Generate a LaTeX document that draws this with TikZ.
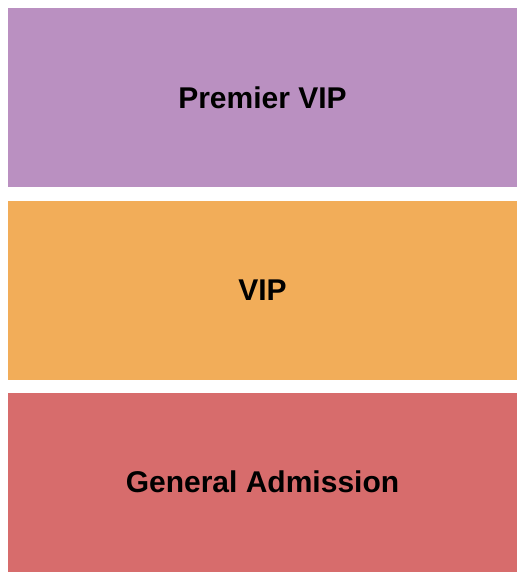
\documentclass[tikz,border=0pt]{standalone}
\usepackage{fontspec}
\setmainfont{Liberation Sans}
\definecolor{premier}{RGB}{186,144,193}
\definecolor{vipc}{RGB}{242,173,89}
\definecolor{gac}{RGB}{215,108,108}
\begin{document}
\begin{tikzpicture}[x=1bp,y=-1bp,
  section/.style={inner sep=0pt, outer sep=0pt, minimum width=509bp, minimum height=179bp, draw=none},
  label/.style={font=\fontsize{30bp}{34bp}\selectfont\bfseries, text=black}]
\useasboundingbox (0,0) rectangle (525,580);
\fill[white] (0,0) rectangle (525,580);
\node[section, fill=premier] (pvip) at (262.5,97.5) {};
\node[section, fill=vipc] (vip) at (262.5,290.5) {};
\node[section, fill=gac] (ga) at (262.5,482) {};
\node[label] (tp) at (pvip.center) {Premier VIP};
\node[label] (tv) at (vip.center) {VIP};
\node[label] (tg) at (ga.center) {General Admission};
\end{tikzpicture}
\end{document}
